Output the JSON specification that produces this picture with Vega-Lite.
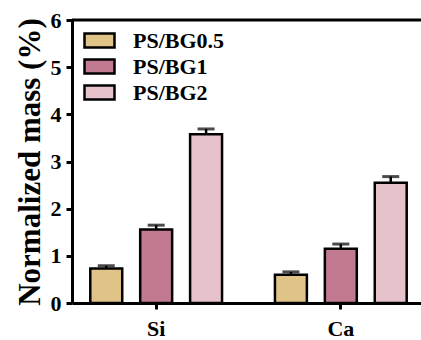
{
  "$schema": "https://vega.github.io/schema/vega-lite/v6.json",
  "width": 349,
  "height": 283,
  "autosize": {"type": "none"},
  "padding": {"left": 72, "top": 20, "right": 0, "bottom": 37},
  "background": "white",
  "config": {"view": {"stroke": null}},
  "data": {
    "values": [
      {"element": "Si", "group": "PS/BG0.5", "mean": 0.73, "upper": 0.79},
      {"element": "Si", "group": "PS/BG1", "mean": 1.56, "upper": 1.65},
      {"element": "Si", "group": "PS/BG2", "mean": 3.58, "upper": 3.69},
      {"element": "Ca", "group": "PS/BG0.5", "mean": 0.6, "upper": 0.66},
      {"element": "Ca", "group": "PS/BG1", "mean": 1.15, "upper": 1.25},
      {"element": "Ca", "group": "PS/BG2", "mean": 2.55, "upper": 2.68}
    ]
  },
  "layer": [
    {
      "encoding": {
        "x": {
          "field": "element",
          "type": "nominal",
          "sort": ["Si", "Ca"],
          "scale": {"paddingInner": 0.2, "paddingOuter": 0.045, "align": 0.62},
          "axis": {
            "title": null,
            "labelAngle": 0,
            "domainWidth": 3,
            "domainColor": "black",
            "tickWidth": 3,
            "tickSize": 6,
            "tickColor": "black",
            "labelFont": "Liberation Serif",
            "labelFontWeight": "bold",
            "labelFontSize": 22,
            "labelColor": "black",
            "labelPadding": 9
          }
        },
        "xOffset": {
          "field": "group",
          "type": "nominal",
          "sort": ["PS/BG0.5", "PS/BG1", "PS/BG2"],
          "scale": {"paddingInner": 0.36, "paddingOuter": 0.16}
        }
      },
      "layer": [
        {
          "mark": {"type": "bar", "stroke": "black", "strokeWidth": 2.5},
          "encoding": {
            "y": {
              "field": "mean",
              "type": "quantitative",
              "scale": {"domain": [0, 6]},
              "axis": {
                "title": "Normalized mass (%)",
                "values": [0, 1, 2, 3, 4, 5, 6],
                "grid": false,
                "domainWidth": 3,
                "domainColor": "black",
                "tickWidth": 3,
                "tickSize": 6,
                "tickColor": "black",
                "labelFont": "Liberation Serif",
                "labelFontWeight": "bold",
                "labelFontSize": 22,
                "labelColor": "black",
                "labelPadding": 5,
                "titleFont": "Liberation Serif",
                "titleFontWeight": "bold",
                "titleFontSize": 31,
                "titleColor": "black",
                "titlePadding": 4
              }
            },
            "color": {
              "field": "group",
              "type": "nominal",
              "sort": ["PS/BG0.5", "PS/BG1", "PS/BG2"],
              "scale": {"domain": ["PS/BG0.5", "PS/BG1", "PS/BG2"], "range": ["#E0C387", "#C27A91", "#E6C3CB"]},
              "legend": {
                "orient": "none",
                "legendX": 16,
                "legendY": 9,
                "title": null,
                "symbolType": "M-1.5,-0.7H1.5V0.7H-1.5Z",
                "symbolSize": 400,
                "symbolStrokeWidth": 2.5,
                "symbolStrokeColor": "black",
                "symbolOpacity": 1,
                "labelFont": "Liberation Serif",
                "labelFontWeight": "bold",
                "labelFontSize": 22,
                "labelColor": "black",
                "labelOffset": 22,
                "rowPadding": 1
              }
            }
          }
        },
        {
          "mark": {"type": "rule", "strokeWidth": 2.5, "color": "black"},
          "encoding": {
            "y": {"field": "mean", "type": "quantitative"},
            "y2": {"field": "upper"}
          }
        },
        {
          "mark": {"type": "tick", "orient": "horizontal", "size": 17, "thickness": 3, "color": "black"},
          "encoding": {
            "y": {"field": "upper", "type": "quantitative"}
          }
        }
      ]
    },
    {
      "data": {"values": [{"top": 6}]},
      "mark": {"type": "rule", "strokeWidth": 3, "color": "black"},
      "encoding": {
        "y": {"field": "top", "type": "quantitative"}
      }
    }
  ]
}
